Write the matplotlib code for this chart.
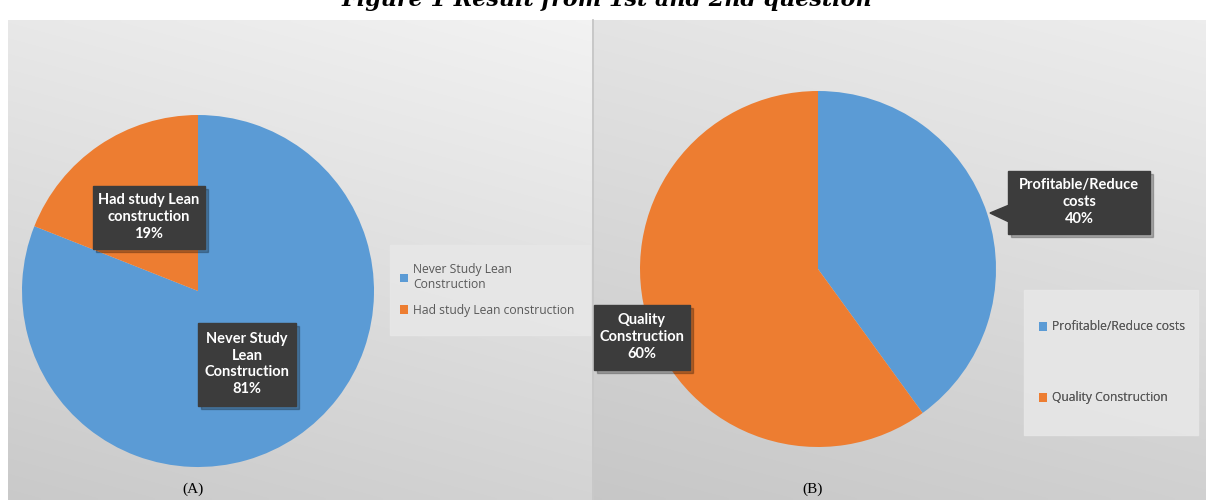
import numpy as np
import matplotlib.pyplot as plt
from matplotlib.patches import Rectangle, Polygon

# Chart data
labels_a = ['Never Study Lean\nConstruction', 'Had study Lean construction']
box_labels_a = ['Never Study\nLean\nConstruction', 'Had study Lean\nconstruction']
values_a = [81, 19]

labels_b = ['Profitable/Reduce costs', 'Quality Construction']
box_labels_b = ['Profitable/Reduce\ncosts', 'Quality\nConstruction']
values_b = [40, 60]

colors = ['#5B9BD5', '#ED7D31']
W, H = 1206, 500

fig = plt.figure(figsize=(W / 100, H / 100), dpi=100)
bg = fig.add_axes([0, 0, 1, 1])
bg.set_xlim(0, W)
bg.set_ylim(H, 0)
bg.axis('off')


def panel_gradient(x0, x1, y0, y1, light, dark):
    """ Gray gradient for one panel, lighter at the top right. """
    xs = np.linspace(0, 1, 200)
    ys = np.linspace(0, 1, 120)
    gx, gy = np.meshgrid(xs, ys)
    t = 0.75 * gy + 0.25 * (1 - gx)
    v = light - (light - dark) * t
    img = np.dstack([v, v, v])
    bg.imshow(img, extent=[x0, x1, y1, y0], aspect='auto', zorder=0, interpolation='bilinear')


panel_gradient(8, 592, 20, H, 0.95, 0.79)
panel_gradient(594, W, 20, H, 0.93, 0.78)
bg.plot([593, 593], [20, H], color='#bdbdbd', lw=1.2, zorder=1)

# Title (clipped at the top, as in the source)
bg.text(607, 6, 'Figure 1 Result from 1st and 2nd question', ha='center', va='baseline',
        fontsize=16, fontweight='bold', fontstyle='italic', family='DejaVu Serif', zorder=5)


def add_pie(cx, cy, r, values):
    ax = fig.add_axes([(cx - r) / W, (H - cy - r) / H, 2 * r / W, 2 * r / H])
    wedges, _ = ax.pie(values, colors=colors, startangle=90, counterclock=False,
                       radius=1, wedgeprops=dict(linewidth=0))
    ax.set_xlim(-1, 1)
    ax.set_ylim(-1, 1)
    ax.axis('off')
    return wedges


wa = add_pie(198, 291, 176, values_a)
wb = add_pie(818, 269, 178, values_b)

# Overlay for data label boxes and legends
fg = fig.add_axes([0, 0, 1, 1])
fg.set_xlim(0, W)
fg.set_ylim(H, 0)
fg.axis('off')
fg.patch.set_alpha(0)


def data_box(cx, cy, w, h, text, pointer=None):
    fg.add_patch(Rectangle((cx - w / 2 + 3, cy - h / 2 + 3), w, h, color='#000000', alpha=0.25, zorder=6))
    fg.add_patch(Rectangle((cx - w / 2, cy - h / 2), w, h, color='#3c3c3c', zorder=7))
    if pointer is not None:
        fg.add_patch(Polygon([(cx - w / 2, cy + h / 2 - 28), pointer, (cx - w / 2, cy + h / 2 - 12)],
                             color='#3c3c3c', zorder=7))
    fg.text(cx, cy, text, ha='center', va='center', color='white', fontsize=10.5, fontweight='bold',
            family='Lato', linespacing=1.25, zorder=8)


data_box(149, 217, 112, 63, f'{box_labels_a[1]}\n{values_a[1]}%')
data_box(247, 364, 98, 83, f'{box_labels_a[0]}\n{values_a[0]}%')
data_box(1079, 202, 142, 63, f'{box_labels_b[0]}\n{values_b[0]}%', pointer=(990, 213))
data_box(642, 337, 96, 65, f'{box_labels_b[1]}\n{values_b[1]}%')


def add_legend(handles, labels, x0, y0, x1, y1, spacing, pad):
    fg.add_patch(Rectangle((x0, y0), x1 - x0, y1 - y0, color='#e7e7e7', alpha=0.9, zorder=2))
    leg = fg.legend(handles, labels, loc='center left',
                    bbox_to_anchor=(x0 / W, 1 - y1 / H, (x1 - x0) / W, (y1 - y0) / H),
                    bbox_transform=fig.transFigure, frameon=False,
                    prop={'family': 'Open Sans', 'size': 8.7}, labelcolor='#595959',
                    handlelength=0.7, handleheight=0.7, handletextpad=0.4, labelspacing=spacing,
                    borderpad=pad, borderaxespad=0)
    fg.add_artist(leg)
    return leg


add_legend(wa, labels_a, 390, 245, 590, 335, 1.0, 0.8)
add_legend(wb, labels_b, 1024, 290, 1198, 435, 4.8, 1.2)

# Panel captions
fg.text(193, 489, '(A)', ha='center', va='center', fontsize=11, family='Liberation Serif', zorder=5)
fg.text(813, 489, '(B)', ha='center', va='center', fontsize=11, family='Liberation Serif', zorder=5)

fig.savefig('out.png', dpi=100)
